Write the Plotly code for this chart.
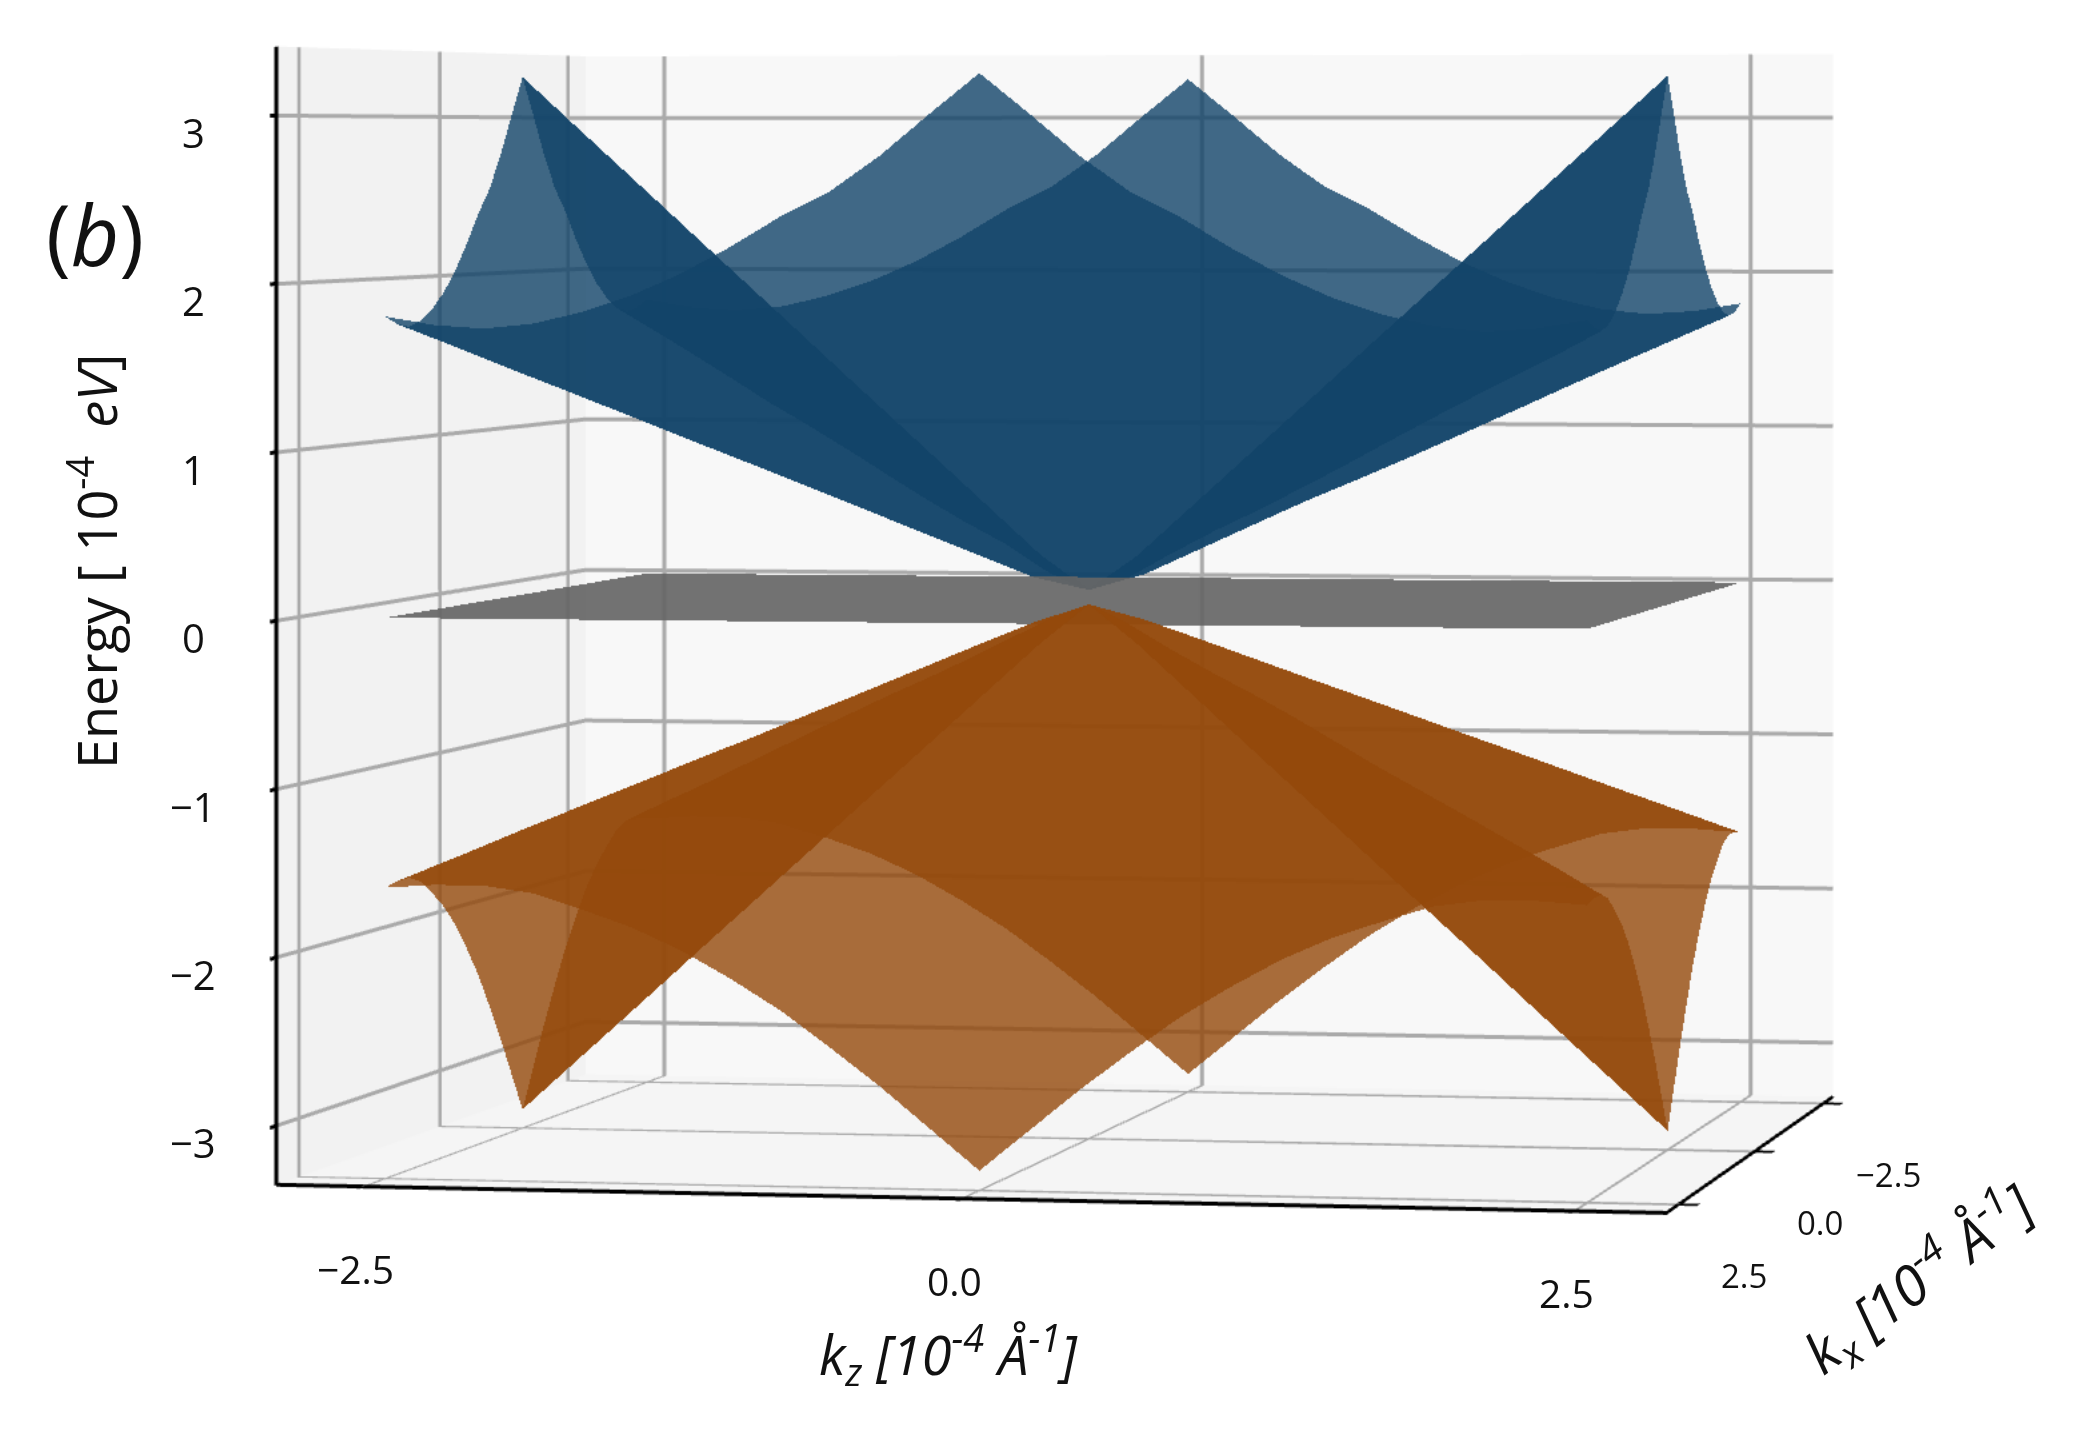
import plotly.graph_objects as go

# wave-vector samples (10^-4 1/Angstrom) for one quadrant of the band surfaces
K_STEPS = [0.0, 0.208, 0.417, 0.625, 0.833, 1.042, 1.25, 1.458, 1.667, 1.875, 2.083, 2.292, 2.5]

# band energy (10^-4 eV) on that quadrant, rows |kx|, columns |kz|; the picture is fourfold symmetric
UPPER_Q = [
    [0.06, 0.271, 0.542, 0.813, 1.083, 1.354, 1.625, 1.896, 2.167, 2.438, 2.708, 2.979, 3.25],
    [0.271, 0.15, 0.343, 0.60, 0.85, 1.117, 1.38, 1.651, 1.92, 2.198, 2.467, 2.736, 3.01],
    [0.542, 0.343, 0.30, 0.458, 0.687, 0.942, 1.20, 1.447, 1.70, 1.965, 2.233, 2.493, 2.76],
    [0.813, 0.60, 0.458, 0.45, 0.587, 0.796, 1.03, 1.283, 1.54, 1.80, 2.05, 2.301, 2.55],
    [1.083, 0.85, 0.687, 0.587, 0.60, 0.725, 0.915, 1.138, 1.373, 1.628, 1.883, 2.136, 2.40],
    [1.354, 1.117, 0.942, 0.796, 0.725, 0.75, 0.865, 1.044, 1.253, 1.478, 1.717, 1.971, 2.22],
    [1.625, 1.38, 1.20, 1.03, 0.915, 0.865, 0.90, 1.012, 1.173, 1.373, 1.592, 1.824, 2.06],
    [1.896, 1.651, 1.447, 1.283, 1.138, 1.044, 1.012, 1.05, 1.16, 1.313, 1.50, 1.714, 1.93],
    [2.167, 1.92, 1.70, 1.54, 1.373, 1.253, 1.173, 1.16, 1.20, 1.309, 1.45, 1.632, 1.83],
    [2.438, 2.198, 1.965, 1.80, 1.628, 1.478, 1.373, 1.313, 1.309, 1.35, 1.454, 1.586, 1.76],
    [2.708, 2.467, 2.233, 2.05, 1.883, 1.717, 1.592, 1.50, 1.45, 1.454, 1.50, 1.604, 1.73],
    [2.979, 2.736, 2.493, 2.301, 2.136, 1.971, 1.824, 1.714, 1.632, 1.586, 1.604, 1.65, 1.75],
    [3.25, 3.01, 2.76, 2.55, 2.40, 2.22, 2.06, 1.93, 1.83, 1.76, 1.73, 1.75, 1.80],
]
LOWER_Q = [
    [-0.03, -0.269, -0.539, -0.809, -1.078, -1.347, -1.617, -1.886, -2.155, -2.426, -2.695, -2.964, -3.233],
    [-0.269, -0.135, -0.326, -0.576, -0.839, -1.105, -1.372, -1.642, -1.91, -2.181, -2.448, -2.721, -2.989],
    [-0.539, -0.326, -0.268, -0.431, -0.653, -0.897, -1.153, -1.416, -1.68, -1.943, -2.21, -2.478, -2.744],
    [-0.809, -0.576, -0.431, -0.403, -0.544, -0.753, -0.979, -1.22, -1.469, -1.729, -1.989, -2.253, -2.519],
    [-1.078, -0.839, -0.653, -0.544, -0.538, -0.667, -0.862, -1.077, -1.306, -1.545, -1.793, -2.048, -2.305],
    [-1.347, -1.105, -0.897, -0.753, -0.667, -0.671, -0.796, -0.976, -1.183, -1.40, -1.632, -1.87, -2.122],
    [-1.617, -1.372, -1.153, -0.979, -0.862, -0.796, -0.806, -0.925, -1.088, -1.293, -1.505, -1.73, -1.958],
    [-1.886, -1.642, -1.416, -1.22, -1.077, -0.976, -0.925, -0.94, -1.058, -1.209, -1.403, -1.609, -1.826],
    [-2.155, -1.91, -1.68, -1.469, -1.306, -1.183, -1.088, -1.058, -1.074, -1.189, -1.334, -1.515, -1.724],
    [-2.426, -2.181, -1.943, -1.729, -1.545, -1.40, -1.293, -1.209, -1.189, -1.209, -1.322, -1.459, -1.632],
    [-2.695, -2.448, -2.21, -1.989, -1.793, -1.632, -1.505, -1.403, -1.334, -1.322, -1.343, -1.459, -1.591],
    [-2.964, -2.721, -2.478, -2.253, -2.048, -1.87, -1.73, -1.609, -1.515, -1.459, -1.459, -1.477, -1.591],
    [-3.233, -2.989, -2.744, -2.519, -2.305, -2.122, -1.958, -1.826, -1.724, -1.632, -1.591, -1.591, -1.612],
]
PLANE_X = [-2.5, 2.5]
PLANE_Y = [-2.5, 2.5]
PLANE_E = [[0.0, 0.0], [0.0, 0.0]]

Z_TICKS = [-3, -2, -1, 0, 1, 2, 3]
Z_TICK_TEXT = ["\u22123", "\u22122", "\u22121", "0", "1", "2", "3"]
K_TICKS = [-2.5, 0.0, 2.5]
KZ_TICK_TEXT = ["\u22122.5", "0.0", "2.5"]
KX_TICK_TEXT = ["2.5", "0.0", "\u22122.5"]   # depth axis runs from viewer to back

SIDE, TOP, LEFT = 7680, -3701, -2257
FONT = "Open Sans"
X_LO, X_HI, Y_LO, Y_HI, Z_LO, Z_HI = -2.87, 2.87, -2.87, 2.87, -3.35, 3.41
EDGE = 0.002  # keeps anchors of edge labels just inside the axis range


def band(quadrant, color, opacity):
    n = len(K_STEPS) - 1
    xs, ys, zs = [], [], []
    for r in range(-n, n + 1):
        for c in range(-n, n + 1):
            xs.append((1 if c > 0 else -1) * K_STEPS[abs(c)])
            ys.append((1 if r > 0 else -1) * K_STEPS[abs(r)])
            zs.append(quadrant[abs(r)][abs(c)])
    w = 2 * n + 1
    ti, tj, tk = [], [], []
    for r in range(w - 1):
        for c in range(w - 1):
            a, b, d, e = r * w + c, r * w + c + 1, (r + 1) * w + c, (r + 1) * w + c + 1
            if (r < n) == (c < n):  # crease follows the diagonal valley
                ti += [a, a]; tj += [b, e]; tk += [e, d]
            else:
                ti += [a, b]; tj += [b, e]; tk += [d, d]
    return go.Mesh3d(x=xs, y=ys, z=zs, i=ti, j=tj, k=tk, color=color, opacity=opacity,
                     flatshading=True, hoverinfo="skip",
                     lighting=dict(ambient=1, diffuse=0, specular=0, roughness=1, fresnel=0))


fig = go.Figure([
    band(UPPER_Q, "#124469", 0.8),
    go.Surface(x=PLANE_X, y=PLANE_Y, z=PLANE_E, colorscale=[[0, "#666666"], [1, "#666666"]],
               showscale=False, opacity=0.92, hoverinfo="skip",
               lighting=dict(ambient=1, diffuse=0, specular=0, roughness=1, fresnel=0)),
    band(LOWER_Q, "#94490b", 0.8),
])


def axis(tv, rng, bg):
    return dict(
        range=rng, tickvals=tv, title=dict(text=""), showticklabels=False,
        showline=True, linecolor="black", linewidth=3,
        showgrid=True, gridcolor="#aaaaaa", gridwidth=3,
        zeroline=False, ticks="outside", tickcolor="black", tickwidth=3, ticklen=6,
        showbackground=True, backgroundcolor=bg, showspikes=False,
    )


def ann(text, px, py, size, angle=0):
    return dict(text=text, x=(px - LEFT) / SIDE, y=1 - (py - TOP) / SIDE, xref="paper", yref="paper",
                showarrow=False, textangle=angle, xanchor="center", yanchor="middle",
                font=dict(family=FONT, size=size, color="#111111"))


def tick_label(text, x, y, z, dx, dy, size):
    return dict(text=text, x=x, y=y, z=z, showarrow=False, xshift=dx, yshift=-dy,
                xanchor="center", yanchor="middle",
                font=dict(family=FONT, size=size, color="#111111"))


scene_labels = (
    [tick_label(t, v, Y_LO + EDGE, Z_LO + EDGE, -8, 82, 39) for v, t in zip(K_TICKS, KZ_TICK_TEXT)]
    + [tick_label(t, X_HI - EDGE, v, Z_LO + EDGE, 66, 71, 33) for v, t in zip(K_TICKS, KX_TICK_TEXT)]
    + [tick_label(t, X_LO + EDGE, Y_LO + EDGE, v, -84, 17, 40) for v, t in zip(Z_TICKS, Z_TICK_TEXT)]
)

fig.update_layout(
    width=SIDE, height=SIDE, autosize=False, margin=dict(l=0, r=0, t=0, b=0),
    paper_bgcolor="white", showlegend=False,
    scene=dict(
        domain=dict(x=[0, 1], y=[0, 1]),
        xaxis=axis(K_TICKS, [X_LO, X_HI], "#f2f2f2"),
        yaxis=axis(K_TICKS, [Y_LO, Y_HI], "#f8f8f8"),
        zaxis=axis(Z_TICKS, [Z_LO, Z_HI], "#f5f5f5"),
        aspectmode="manual",
        aspectratio=dict(x=0.838, y=0.661, z=0.677),
        camera=dict(
            eye=dict(x=1.2972, y=-5.628, z=0.2835),
            center=dict(x=0.3028, y=0.053, z=0.2835),
            up=dict(x=0, y=0, z=1),
            projection=dict(type="perspective"),
        ),
        annotations=scene_labels,
    ),
    annotations=[
        ann("(<i>b</i>)", 95, 233, 84),
        ann("Energy [ 10<sup>-4</sup>  <i>eV</i>]", 93, 562, 54, -90),
        ann("<i>k<sub>z</sub> [10<sup>-4</sup> \u00c5<sup>-1</sup>]</i>", 948, 1354, 54),
        ann("<i>k<sub>x</sub> [10<sup>-4</sup> \u00c5<sup>-1</sup>]</i>", 1918, 1278, 56, -37),
    ],
)

POST = f"""
var gd=document.querySelector('.plotly-graph-div');
gd.style.position='absolute';gd.style.left='{LEFT}px';gd.style.top='{TOP}px';
document.documentElement.style.overflow='hidden';document.body.style.overflow='hidden';
document.documentElement.style.height='100vh';document.body.style.height='100vh';
"""
fig.write_html("out.html", post_script=POST)
